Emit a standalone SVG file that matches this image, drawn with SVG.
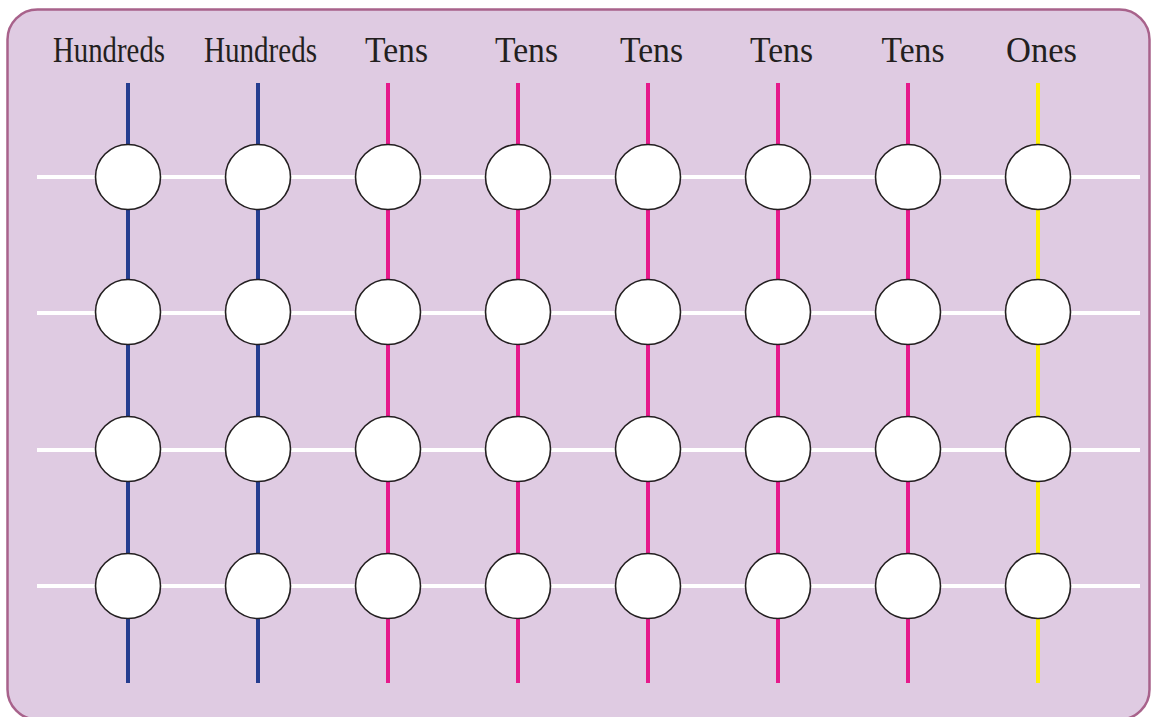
<svg xmlns="http://www.w3.org/2000/svg" width="1152" height="717" viewBox="0 0 1152 717">
<style>
.lbl{font-family:"Liberation Serif","Times New Roman",serif;font-size:36px;fill:#231f20;text-anchor:middle}
.h{stroke:#ffffff;stroke-width:4}
.vb{stroke:#253d8f;stroke-width:4}
.vp{stroke:#e6198b;stroke-width:4}
.vy{stroke:#fff200;stroke-width:4}
.bead{fill:#ffffff;stroke:#231f20;stroke-width:1.6}
</style>
<rect id="frame" x="7.5" y="9.5" width="1142" height="710" rx="30" fill="#dfcbe2" stroke="#a8628b" stroke-width="2.5"/>
<g id="labels">
<text class="lbl" x="109" y="62" textLength="112" lengthAdjust="spacingAndGlyphs">Hundreds</text>
<text class="lbl" x="260.5" y="62" textLength="113" lengthAdjust="spacingAndGlyphs">Hundreds</text>
<text class="lbl" x="396.5" y="62" textLength="63" lengthAdjust="spacingAndGlyphs">Tens</text>
<text class="lbl" x="526.5" y="62" textLength="63" lengthAdjust="spacingAndGlyphs">Tens</text>
<text class="lbl" x="651.5" y="62" textLength="63" lengthAdjust="spacingAndGlyphs">Tens</text>
<text class="lbl" x="781.5" y="62" textLength="63" lengthAdjust="spacingAndGlyphs">Tens</text>
<text class="lbl" x="913" y="62" textLength="63" lengthAdjust="spacingAndGlyphs">Tens</text>
<text class="lbl" x="1041.5" y="62" textLength="71" lengthAdjust="spacingAndGlyphs">Ones</text>
</g>
<g id="connectors">
<line class="h" x1="37" y1="177" x2="1140" y2="177"/>
<line class="h" x1="37" y1="313" x2="1140" y2="313"/>
<line class="h" x1="37" y1="450" x2="1140" y2="450"/>
<line class="h" x1="37" y1="586" x2="1140" y2="586"/>
<line class="vb" x1="128" y1="83" x2="128" y2="683"/>
<line class="vb" x1="258" y1="83" x2="258" y2="683"/>
<line class="vp" x1="388" y1="83" x2="388" y2="683"/>
<line class="vp" x1="518" y1="83" x2="518" y2="683"/>
<line class="vp" x1="648" y1="83" x2="648" y2="683"/>
<line class="vp" x1="778" y1="83" x2="778" y2="683"/>
<line class="vp" x1="908" y1="83" x2="908" y2="683"/>
<line class="vy" x1="1038" y1="83" x2="1038" y2="683"/>
</g>
<defs><circle id="b" r="32.5" class="bead"/></defs>
<g id="row1">
<use id="n1_1" href="#b" x="128" y="177"/><use id="n1_2" href="#b" x="258" y="177"/><use id="n1_3" href="#b" x="388" y="177"/><use id="n1_4" href="#b" x="518" y="177"/><use id="n1_5" href="#b" x="648" y="177"/><use id="n1_6" href="#b" x="778" y="177"/><use id="n1_7" href="#b" x="908" y="177"/><use id="n1_8" href="#b" x="1038" y="177"/>
</g>
<g id="row2">
<use id="n2_1" href="#b" x="128" y="312"/><use id="n2_2" href="#b" x="258" y="312"/><use id="n2_3" href="#b" x="388" y="312"/><use id="n2_4" href="#b" x="518" y="312"/><use id="n2_5" href="#b" x="648" y="312"/><use id="n2_6" href="#b" x="778" y="312"/><use id="n2_7" href="#b" x="908" y="312"/><use id="n2_8" href="#b" x="1038" y="312"/>
</g>
<g id="row3">
<use id="n3_1" href="#b" x="128" y="449"/><use id="n3_2" href="#b" x="258" y="449"/><use id="n3_3" href="#b" x="388" y="449"/><use id="n3_4" href="#b" x="518" y="449"/><use id="n3_5" href="#b" x="648" y="449"/><use id="n3_6" href="#b" x="778" y="449"/><use id="n3_7" href="#b" x="908" y="449"/><use id="n3_8" href="#b" x="1038" y="449"/>
</g>
<g id="row4">
<use id="n4_1" href="#b" x="128" y="586"/><use id="n4_2" href="#b" x="258" y="586"/><use id="n4_3" href="#b" x="388" y="586"/><use id="n4_4" href="#b" x="518" y="586"/><use id="n4_5" href="#b" x="648" y="586"/><use id="n4_6" href="#b" x="778" y="586"/><use id="n4_7" href="#b" x="908" y="586"/><use id="n4_8" href="#b" x="1038" y="586"/>
</g>
</svg>
